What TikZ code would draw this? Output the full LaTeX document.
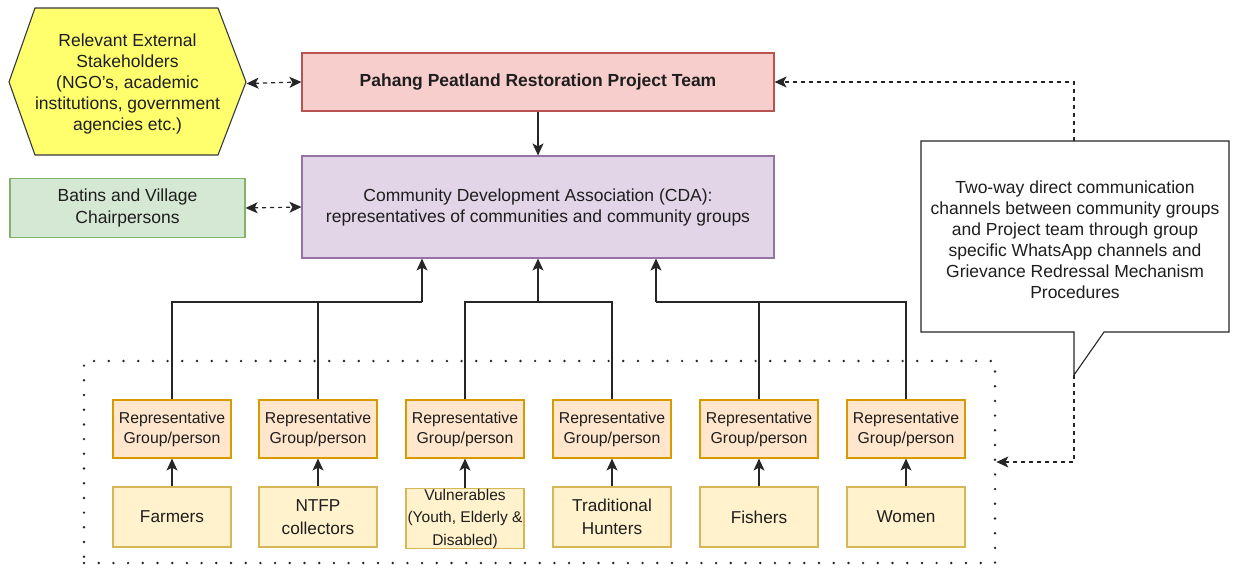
\documentclass[tikz,border=0pt]{standalone}
\usepackage{fontspec}
\setmainfont{Liberation Sans}
\usetikzlibrary{arrows.meta,calc}
\definecolor{txt}{HTML}{1E1E1E}
\definecolor{redF}{HTML}{F8CECC}\definecolor{redS}{HTML}{B85450}
\definecolor{purF}{HTML}{E1D5E7}\definecolor{purS}{HTML}{9673A6}
\definecolor{grnF}{HTML}{D5E8D4}\definecolor{grnS}{HTML}{82B366}
\definecolor{orgF}{HTML}{FFE6CC}\definecolor{orgS}{HTML}{D79B00}
\definecolor{ylwF}{HTML}{FFF2CC}\definecolor{ylwS}{HTML}{D6B656}
\definecolor{hexF}{HTML}{FFFF6E}\definecolor{hexS}{HTML}{36393D}
\begin{document}
\begin{tikzpicture}[x=1pt,y=-1pt,
  base/.style={rectangle, line width=1.1pt, inner sep=0pt, align=center, text=txt,
    font=\fontsize{17.5}{21}\selectfont},
  projbox/.style={base, draw=redS, fill=redF, minimum width=472pt, minimum height=58pt,
    font=\fontsize{17.5}{21}\selectfont\bfseries},
  cdabox/.style={base, draw=purS, fill=purF, minimum width=472pt, minimum height=102pt},
  grnbox/.style={base, draw=grnS, fill=grnF, minimum width=235pt, minimum height=59pt,
    font=\fontsize{17.5}{22}\selectfont},
  repbox/.style={base, draw=orgS, fill=orgF, minimum width=118pt, minimum height=58pt,
    font=\fontsize{15.8}{20}\selectfont},
  grpbox/.style={base, draw=ylwS, fill=ylwF, minimum width=118pt, minimum height=60pt,
    font=\fontsize{17.2}{22.5}\selectfont},
  plain/.style={base},
  hexshape/.style={line width=1.1pt, draw=hexS, fill=hexF},
  callshape/.style={line width=1.1pt, draw=black!85, fill=white},
  dotbox/.style={rectangle, draw=black!85, line width=2.7pt, line cap=round,
    dash pattern=on 0pt off 14.7pt, minimum width=911pt, minimum height=202pt},
  arr/.style={line width=1.2pt, draw=black!85, -{Stealth[length=12pt,width=11pt,inset=3pt]}},
  line/.style={line width=1.2pt, draw=black!85},
  darr/.style={line width=1.2pt, draw=black!85, dash pattern=on 4pt off 4pt,
    -{Stealth[length=12pt,width=11pt,inset=3pt]}},
  ddarr/.style={darr, {Stealth[length=12pt,width=11pt,inset=3pt]}-{Stealth[length=12pt,width=11pt,inset=3pt]}}
]
\useasboundingbox (0,0) rectangle (1236,571);

% dotted group frame
\node[dotbox] (grp) at (539.5,462) {};

% hexagon of external stakeholders
\draw[hexshape] (9,82) -- (35,8) -- (218,8) -- (246,82) -- (218,155) -- (35,155) -- cycle;
\node[plain, minimum width=237pt, minimum height=147pt] (ext) at (127.5,83.5)
  {Relevant External\\Stakeholders\\(NGO's, academic\\institutions, government\\agencies etc.)};

\node[grnbox] (bat) at (127.5,208) {Batins and Village\\Chairpersons};
\node[projbox] (proj) at (538,82) {Pahang Peatland Restoration Project Team};
\node[cdabox] (cda) at (538,207)
  {Community Development Association (CDA):\\representatives of communities and community groups};

% callout
\draw[callshape] (921,141) -- (1229,141) -- (1229,332) -- (1104,332) -- (1074,375)
  -- (1074,332) -- (921,332) -- cycle;
\node[plain] (call) at (1075,240)
  {Two-way direct communication\\channels between community groups\\and Project team through group\\specific WhatsApp channels and\\Grievance Redressal Mechanism\\Procedures};
\coordinate (ctop) at (1074,141);
\coordinate (ctip) at (1074,375);

% representatives and groups
\foreach \i/\x in {1/172,2/318,3/465,4/612,5/759,6/906}{
  \node[repbox] (rep\i) at (\x,429) {Representative\\Group/person};
}
\node[grpbox] (g1) at (172,517) {Farmers};
\node[grpbox] (g2) at (318,517) {NTFP\\collectors};
\node[grpbox, font=\fontsize{15.5}{22.5}\selectfont] (g3) at (465,518.5) {Vulnerables\\(Youth, Elderly \&\\Disabled)};
\node[grpbox] (g4) at (612,517) {Traditional\\Hunters};
\node[grpbox] (g5) at (759,517) {Fishers};
\node[grpbox] (g6) at (906,517) {Women};

\foreach \i in {1,...,6}{
  \draw[arr] (g\i.north) -- (rep\i.south);
}

% connections to CDA
\coordinate (j1) at (422,302);
\coordinate (j2) at (538,302);
\coordinate (j3) at (656,302);
\draw[line] (rep1.north) |- (j1) -| (rep2.north);
\draw[line] (rep3.north) |- (j2) -| (rep4.north);
\draw[line] (rep5.north) |- (j3) -| (rep6.north);
\draw[arr] (j1) -- (j1 |- cda.south);
\draw[arr] (j2) -- (j2 |- cda.south);
\draw[arr] (j3) -- (j3 |- cda.south);

\draw[arr] (proj.south) -- (cda.north);
\draw[ddarr] (ext.east) -- (proj.west);
\draw[ddarr] (bat.east) -- (cda.west);
\draw[darr] (ctop) |- (proj.east);
\draw[darr] (ctip) |- (grp.east);
\end{tikzpicture}
\end{document}
